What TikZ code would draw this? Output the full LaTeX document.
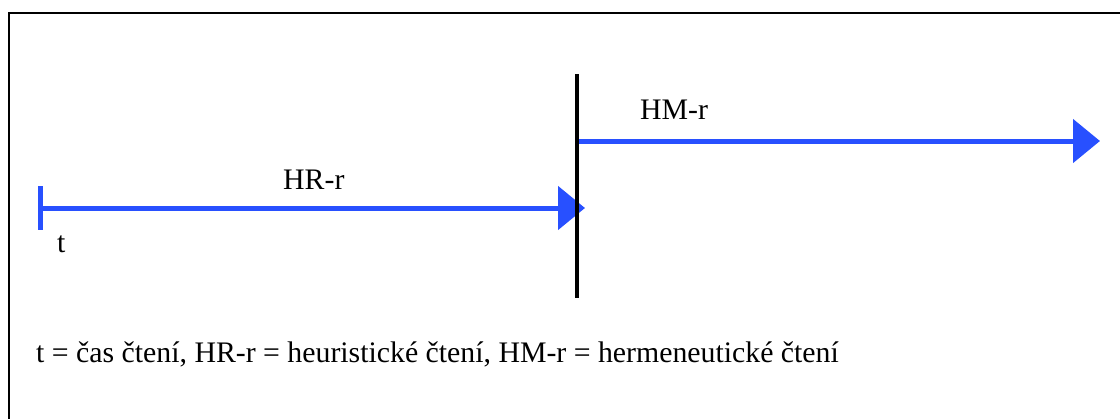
\documentclass[tikz,border=0pt]{standalone}
\usepackage{fontspec}
\setmainfont{Liberation Serif}
\usetikzlibrary{arrows.meta}
\definecolor{lineblue}{RGB}{40,80,255}
\begin{document}
\begin{tikzpicture}[x=1pt,y=-1pt,
  bluearrow/.style={draw=lineblue,line width=5pt,
    -{Triangle[length=27pt,width=43pt,fill=lineblue]}},
  tickline/.style={draw=lineblue,line width=5pt},
  divider/.style={draw=black,line width=4pt},
  frameline/.style={draw=black,line width=2.5pt},
  lbl/.style={anchor=base west,inner sep=0pt,font=\fontsize{29.8}{35}\selectfont}]
\useasboundingbox (0,0) rectangle (1120,418);
% outer frame (top and left edges)
\coordinate (fbl) at (9,420);
\coordinate (ftl) at (9,13);
\coordinate (ftr) at (1122,13);
\draw[frameline] (fbl) -- (ftl) -- (ftr);
% start tick of the time axis
\coordinate (tickT) at (40,186);
\coordinate (tickB) at (40,230);
\draw[tickline] (tickT) -- (tickB);
% heuristic reading
\coordinate (hrS) at (40,208);
\coordinate (hrE) at (585,208);
\draw[bluearrow] (hrS) -- (hrE);
% hermeneutic reading
\coordinate (hmS) at (577,141);
\coordinate (hmE) at (1100,141);
\draw[bluearrow] (hmS) -- (hmE);
% boundary between the two phases
\coordinate (divT) at (577,74);
\coordinate (divB) at (577,298);
\draw[divider] (divT) -- (divB);
% labels
\node[lbl] (tlab) at (57,252) {t};
\node[lbl] (hrlab) at (283,189) {HR-r};
\node[lbl] (hmlab) at (640,119) {HM-r};
\node[lbl] (legend) at (36,362) {t = čas čtení, HR-r = heuristické čtení, HM-r = hermeneutické čtení};
\end{tikzpicture}
\end{document}
